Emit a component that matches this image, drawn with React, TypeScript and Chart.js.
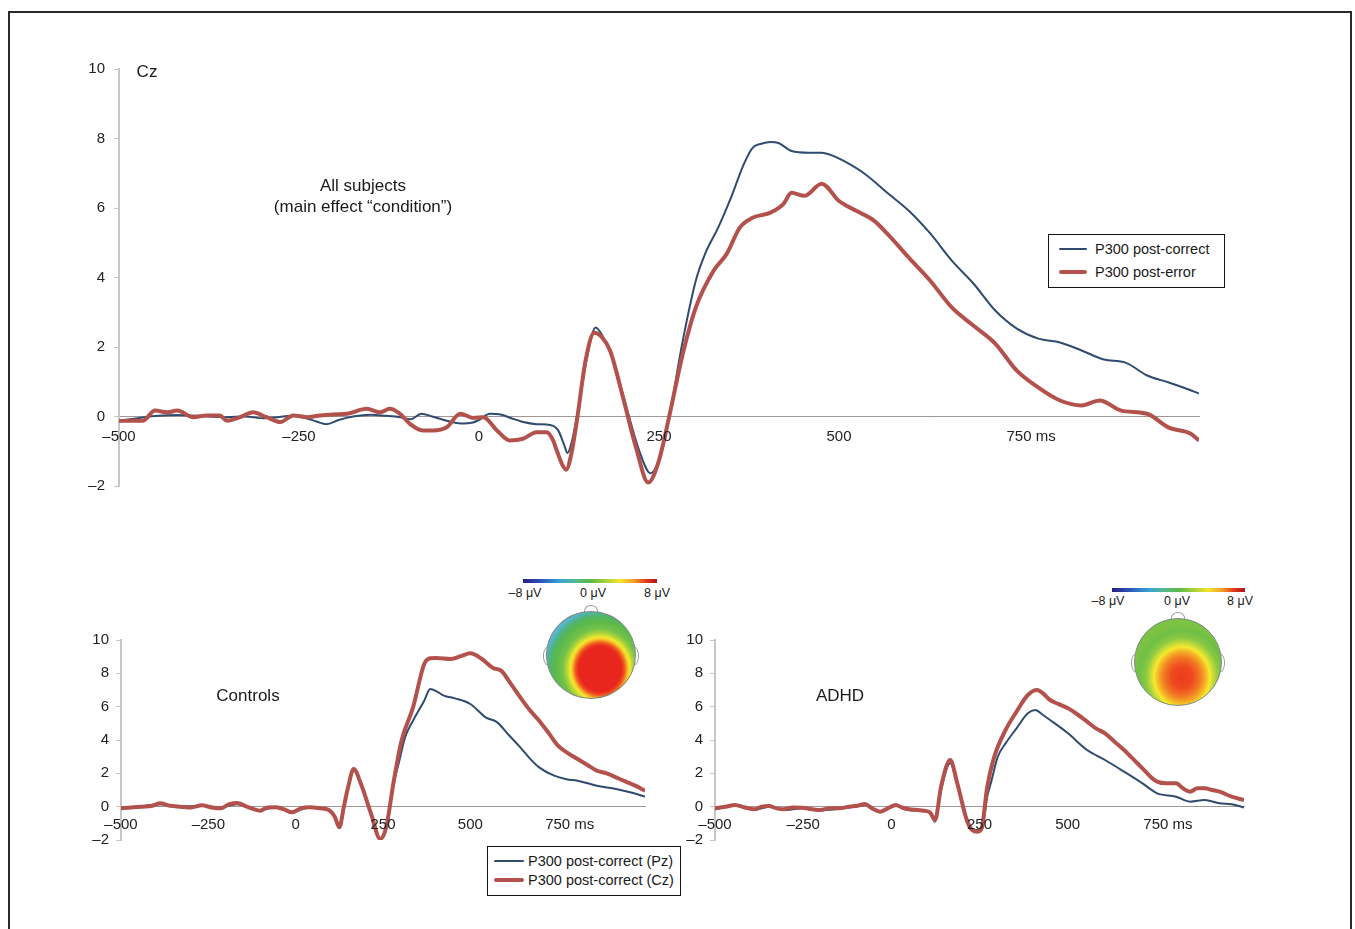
import React, { useEffect, useRef } from 'react';
import { Chart, registerables } from 'chart.js';

Chart.register(...registerables);

const FONT = '"Liberation Sans", Arial, Helvetica, sans-serif';
const BLUE = '#2f4b6e';
const RED = '#b3524c';

// x tick labels (ms) and y range (µV)
const xTickValues = [-500, -250, 0, 250, 500, 750];
const xMin = -500;
const xMax = 1000;
const yMin = -2;
const yMax = 10;
const yStep = 2;

// ---- Top panel: All subjects (Cz) ----
const topCorrectT = [-500, -485, -465, -445, -420, -400, -375, -350, -325, -300, -280, -260, -240, -225, -212, -195, -175, -150, -130, -110, -95, -80, -65, -45, -25, -10, 0, 15, 30, 45, 60, 80, 100, 110, 118, 123, 128, 136, 151, 162, 175, 188, 206, 224, 238, 253, 265, 283, 301, 314, 332, 350, 368, 380, 392, 405, 416, 434, 458, 476, 492, 506, 536, 567, 597, 627, 657, 687, 717, 747, 777, 807, 837, 868, 898, 928, 958, 980, 1000];
const topCorrectV = [-0.12, -0.08, -0.02, 0.02, 0.04, 0.03, 0.0, -0.02, 0.0, -0.05, -0.02, 0.02, -0.05, -0.15, -0.22, -0.1, 0.0, 0.05, 0.02, -0.02, -0.08, 0.08, 0.0, -0.12, -0.2, -0.18, -0.1, 0.08, 0.06, -0.05, -0.15, -0.22, -0.25, -0.4, -0.8, -1.05, -0.8, 0.0, 1.8, 2.56, 2.18, 1.52, 0.17, -1.07, -1.63, -1.07, 0.08, 2.18, 3.9, 4.68, 5.43, 6.3, 7.27, 7.73, 7.85, 7.9, 7.87, 7.64, 7.59, 7.59, 7.5, 7.36, 6.98, 6.44, 5.92, 5.26, 4.48, 3.82, 3.05, 2.53, 2.24, 2.13, 1.9, 1.64, 1.55, 1.18, 0.98, 0.82, 0.66];

const topErrorT = [-500, -485, -467, -450, -433, -419, -397, -378, -360, -350, -332, -314, -295, -276, -258, -239, -221, -203, -183, -156, -137, -124, -110, -96, -78, -64, -45, -26, -8, 6, 25, 43, 61, 80, 94, 103, 108, 116, 121, 128, 136, 148, 160, 170, 182, 200, 218, 235, 250, 265, 283, 301, 326, 344, 362, 380, 404, 423, 434, 452, 476, 500, 524, 549, 567, 597, 627, 657, 687, 717, 747, 777, 807, 837, 862, 892, 928, 958, 988, 1000];
const topErrorV = [-0.13, -0.12, -0.12, 0.17, 0.12, 0.17, -0.02, 0.03, 0.03, -0.12, -0.02, 0.12, -0.02, -0.16, 0.03, -0.02, 0.03, 0.06, 0.08, 0.22, 0.12, 0.22, 0.08, -0.21, -0.4, -0.4, -0.31, 0.08, -0.04, -0.02, -0.4, -0.69, -0.64, -0.45, -0.45, -0.69, -0.98, -1.4, -1.53, -1.1, -0.11, 1.61, 2.41, 2.3, 1.9, 0.55, -0.89, -1.9, -1.26, 0.08, 1.8, 3.13, 4.2, 4.68, 5.43, 5.72, 5.86, 6.12, 6.44, 6.35, 6.7, 6.2, 5.92, 5.63, 5.26, 4.57, 3.9, 3.13, 2.61, 2.1, 1.32, 0.83, 0.46, 0.32, 0.46, 0.17, 0.08, -0.32, -0.49, -0.69];

// ---- Bottom-left: Controls ----
const ctrlPzT = [-500, -450, -388, -330, -268, -220, -168, -102, -59, -10, 41, 95, 110, 125, 140, 150, 166, 187, 216, 242, 259, 281, 295, 313, 336, 368, 385, 405, 424, 456, 500, 544, 577, 610, 643, 670, 697, 740, 775, 807, 862, 917, 960, 1000];
const ctrlPzV = [-0.05, 0.0, 0.15, 0.0, 0.05, -0.05, 0.15, -0.2, -0.05, -0.3, -0.05, -0.2, -0.5, -1.2, 0.3, 1.1, 2.2, 1.3, -0.45, -1.9, -1.3, 1.4, 2.6, 4.16, 5.16, 6.36, 7.06, 6.9, 6.66, 6.5, 6.16, 5.36, 5.06, 4.3, 3.56, 2.9, 2.36, 1.86, 1.65, 1.56, 1.26, 1.06, 0.85, 0.6];

const ctrlCzT = [-500, -470, -440, -410, -388, -360, -330, -300, -268, -240, -215, -190, -168, -140, -120, -102, -80, -59, -35, -10, 15, 41, 70, 95, 112, 125, 138, 150, 166, 187, 216, 242, 259, 281, 303, 336, 368, 385, 402, 445, 475, 500, 533, 565, 588, 615, 643, 670, 697, 725, 751, 780, 807, 835, 862, 890, 917, 945, 972, 1000];
const ctrlCzV = [-0.1, -0.05, 0.0, 0.05, 0.2, 0.05, 0.0, -0.05, 0.08, -0.05, -0.1, 0.15, 0.22, 0.0, -0.15, -0.24, -0.05, -0.04, -0.15, -0.34, -0.1, -0.04, -0.1, -0.2, -0.6, -1.24, 0.0, 1.16, 2.26, 1.36, -0.44, -1.94, -1.24, 1.56, 3.96, 5.96, 8.56, 8.9, 8.92, 8.86, 9.05, 9.2, 8.86, 8.32, 8.16, 7.4, 6.56, 5.8, 5.16, 4.4, 3.66, 3.2, 2.86, 2.5, 2.16, 2.0, 1.76, 1.5, 1.26, 0.96];

// ---- Bottom-right: ADHD ----
const adhdPzT = [-500, -443, -389, -347, -305, -253, -201, -148, -96, -75, -32, 13, 50, 93, 110, 124, 141, 167, 187, 214, 229, 256, 272, 282, 302, 324, 355, 387, 408, 430, 450, 501, 555, 606, 660, 712, 754, 807, 847, 889, 931, 965, 1000];
const adhdPzV = [-0.15, 0.05, -0.2, 0.0, -0.2, -0.1, -0.22, -0.12, 0.02, 0.1, -0.32, 0.05, -0.2, -0.28, -0.4, -0.9, 1.0, 2.6, 1.3, -0.9, -1.4, -1.4, 0.6, 1.4, 3.0, 3.8, 4.7, 5.6, 5.8, 5.5, 5.2, 4.4, 3.4, 2.8, 2.1, 1.4, 0.8, 0.6, 0.3, 0.4, 0.2, 0.15, -0.05];

const adhdCzT = [-500, -470, -443, -415, -389, -368, -347, -325, -305, -280, -253, -225, -201, -175, -148, -120, -96, -75, -55, -32, -10, 13, 30, 50, 75, 93, 110, 124, 141, 167, 187, 214, 229, 245, 256, 272, 292, 324, 355, 387, 413, 430, 450, 475, 501, 530, 555, 580, 606, 633, 660, 686, 712, 735, 754, 780, 807, 827, 847, 868, 889, 910, 931, 965, 1000];
const adhdCzV = [-0.1, 0.0, 0.1, -0.05, -0.16, 0.0, 0.04, -0.1, -0.16, -0.05, -0.06, -0.15, -0.2, -0.1, -0.1, 0.0, 0.06, 0.16, -0.1, -0.3, -0.1, 0.1, -0.05, -0.16, -0.2, -0.24, -0.35, -0.8, 1.2, 2.8, 1.4, -0.8, -1.4, -1.5, -1.3, 1.2, 3.0, 4.6, 5.7, 6.7, 7.0, 6.8, 6.4, 6.15, 5.9, 5.5, 5.1, 4.7, 4.4, 3.9, 3.4, 2.85, 2.3, 1.8, 1.5, 1.4, 1.4, 1.1, 0.9, 1.1, 1.1, 1.0, 0.9, 0.6, 0.4];

const fmt = (v: number) => (v < 0 ? '\u2013' + Math.abs(v) : String(v));

type Series = { t: number[]; v: number[]; color: string; width: number; order: number };

type ChartProps = {
  left: number;
  top: number;
  width: number;
  height: number;
  padding: { left: number; right: number; top: number; bottom: number };
  yPad: number;
  xOff: number;
  series: Series[];
};

function ErpChart({ left, top, width, height, padding, yPad, xOff, series }: ChartProps) {
  const ref = useRef<HTMLCanvasElement>(null);
  useEffect(() => {
    const canvas = ref.current;
    if (!canvas) return;
    const xLabelPlugin = {
      id: 'xlabels',
      afterDraw(chart: any) {
        const xs = chart.scales.x;
        const ys = chart.scales.y;
        const c = chart.ctx as CanvasRenderingContext2D;
        const y0 = ys.getPixelForValue(0);
        c.save();
        c.font = `15px ${FONT}`;
        c.fillStyle = '#222';
        c.textBaseline = 'middle';
        xTickValues.forEach((v) => {
          const x = xs.getPixelForValue(v);
          const s = fmt(v);
          c.textAlign = 'center';
          c.fillText(s, x, y0 + xOff);
          if (v === 750) {
            c.textAlign = 'left';
            c.fillText(' ms', x + c.measureText(s).width / 2, y0 + xOff);
          }
        });
        c.restore();
      },
    };
    const chart = new Chart(canvas, {
      type: 'line',
      data: {
        datasets: series.map((s) => ({
          data: s.t.map((t, i) => ({ x: t, y: s.v[i] })),
          borderColor: s.color,
          borderWidth: s.width,
          pointRadius: 0,
          cubicInterpolationMode: 'monotone' as const,
          fill: false,
          order: s.order,
        })),
      },
      options: {
        animation: false,
        responsive: false,
        maintainAspectRatio: false,
        events: [],
        layout: { padding },
        plugins: { legend: { display: false }, tooltip: { enabled: false } },
        scales: {
          x: {
            type: 'linear',
            min: xMin,
            max: xMax,
            position: { y: 0 } as any,
            ticks: { display: false, stepSize: 250 },
            grid: { display: false },
            border: { display: true, color: '#9f9797', width: 1 },
          },
          y: {
            type: 'linear',
            min: yMin,
            max: yMax,
            position: 'left',
            afterFit: (a: any) => {
              a.width = 40;
            },
            ticks: {
              stepSize: yStep,
              padding: yPad,
              color: '#222',
              font: { family: FONT, size: 15 },
              callback: (v: any) => fmt(Number(v)),
            },
            grid: { drawOnChartArea: false, drawTicks: true, tickLength: 5, color: '#c9c4c4', lineWidth: 1 },
            border: { display: true, color: '#cbc6c6', width: 2 },
          },
        },
      },
      plugins: [xLabelPlugin],
    });
    return () => chart.destroy();
  }, []);
  return (
    <canvas
      ref={ref}
      width={width}
      height={height}
      style={{ position: 'absolute', left, top, width, height }}
    />
  );
}

function Txt({ x, y, size, children }: { x: number; y: number; size: number; children: React.ReactNode }) {
  return (
    <div
      style={{
        position: 'absolute',
        left: x,
        top: y,
        transform: 'translate(-50%, -50%)',
        fontFamily: FONT,
        fontSize: size,
        color: '#1a1a1a',
        whiteSpace: 'nowrap',
        lineHeight: 1.25,
        textAlign: 'center',
      }}
    >
      {children}
    </div>
  );
}

type LegendRow = { label: string; color: string; w: number; y: number };

function Legend({
  left,
  top,
  width,
  height,
  rows,
  size,
  lineLeft,
  lineLen,
  textLeft,
}: {
  left: number;
  top: number;
  width: number;
  height: number;
  rows: LegendRow[];
  size: number;
  lineLeft: number;
  lineLen: number;
  textLeft: number;
}) {
  return (
    <div
      style={{
        position: 'absolute',
        left,
        top,
        width,
        height,
        border: '1px solid #111',
        boxSizing: 'border-box',
        background: '#fff',
      }}
    >
      {rows.map((r, i) => (
        <React.Fragment key={i}>
          <div
            style={{
              position: 'absolute',
              left: lineLeft,
              top: r.y - r.w / 2,
              width: lineLen,
              height: r.w,
              background: r.color,
              borderRadius: r.w / 2,
            }}
          />
          <div
            style={{
              position: 'absolute',
              left: textLeft,
              top: r.y,
              transform: 'translateY(-50%)',
              fontFamily: FONT,
              fontSize: size,
              color: '#1a1a1a',
              whiteSpace: 'nowrap',
            }}
          >
            {r.label}
          </div>
        </React.Fragment>
      ))}
    </div>
  );
}

const colorbarGradient =
  'linear-gradient(to right, #23207e 0%, #2a4fb5 12%, #3aa5d6 28%, #56b98a 40%, #5bb847 50%, #a9d23a 62%, #f5e42c 72%, #f4a425 82%, #e2371f 92%, #a8161c 100%)';

function Topo({
  barLeft,
  barTop,
  barWidth,
  labelY,
  labelXs,
  cx,
  cy,
  rx,
  ry,
  fill,
}: {
  barLeft: number;
  barTop: number;
  barWidth: number;
  labelY: number;
  labelXs: number[];
  cx: number;
  cy: number;
  rx: number;
  ry: number;
  fill: string;
}) {
  const labels = ['\u20138 \u03bcV', '0 \u03bcV', '8 \u03bcV'];
  return (
    <>
      <div
        style={{ position: 'absolute', left: barLeft, top: barTop, width: barWidth, height: 4, background: colorbarGradient }}
      />
      {labels.map((l, i) => (
        <div
          key={i}
          style={{
            position: 'absolute',
            left: labelXs[i],
            top: labelY,
            transform: 'translate(-50%, -50%)',
            fontFamily: FONT,
            fontSize: 12.5,
            color: '#1a1a1a',
            whiteSpace: 'nowrap',
          }}
        >
          {l}
        </div>
      ))}
      {/* nose */}
      <div
        style={{
          position: 'absolute',
          left: cx - 7,
          top: cy - ry - 6,
          width: 14,
          height: 12,
          border: '1px solid #9a9a9a',
          borderRadius: '50% 50% 0 0',
          boxSizing: 'border-box',
        }}
      />
      {/* ears */}
      <div
        style={{ position: 'absolute', left: cx - rx - 3, top: cy - 8, width: 8, height: 18, border: '1px solid #9a9a9a', borderRadius: '50%', boxSizing: 'border-box' }}
      />
      <div
        style={{ position: 'absolute', left: cx + rx - 5, top: cy - 8, width: 8, height: 18, border: '1px solid #9a9a9a', borderRadius: '50%', boxSizing: 'border-box' }}
      />
      <div
        style={{
          position: 'absolute',
          left: cx - rx,
          top: cy - ry,
          width: rx * 2,
          height: ry * 2,
          borderRadius: '50%',
          background: fill,
          border: '1px solid #7a8a80',
          boxSizing: 'border-box',
        }}
      />
    </>
  );
}

export default function App() {
  return (
    <div style={{ position: 'absolute', left: 0, top: 0, width: 1355, height: 929, overflow: 'hidden', background: '#fff' }}>
      <div
        style={{
          position: 'absolute',
          left: 8,
          top: 11,
          width: 1344,
          height: 960,
          border: '2px solid #2a2a2a',
          boxSizing: 'border-box',
        }}
      />

      <ErpChart
        left={40}
        top={50}
        width={1200}
        height={456}
        padding={{ left: 39, right: 41, top: 19, bottom: 20 }}
        yPad={9}
        xOff={20}
        series={[
          { t: topErrorT, v: topErrorV, color: RED, width: 4, order: 0 },
          { t: topCorrectT, v: topCorrectV, color: BLUE, width: 2, order: 1 },
        ]}
      />
      <Txt x={147} y={72} size={17}>Cz</Txt>
      <Txt x={363} y={196} size={17}>
        All subjects
        <br />
        (main effect “condition”)
      </Txt>
      <Legend
        left={1048}
        top={234}
        width={177}
        height={54}
        size={14.5}
        lineLeft={10}
        lineLen={28}
        textLeft={46}
        rows={[
          { label: 'P300 post-correct', color: BLUE, w: 2, y: 14 },
          { label: 'P300 post-error', color: RED, w: 4, y: 37 },
        ]}
      />

      <ErpChart
        left={60}
        top={620}
        width={600}
        height={240}
        padding={{ left: 21, right: 15, top: 20, bottom: 20 }}
        yPad={7}
        xOff={18}
        series={[
          { t: ctrlCzT, v: ctrlCzV, color: RED, width: 4, order: 0 },
          { t: ctrlPzT, v: ctrlPzV, color: BLUE, width: 2, order: 1 },
        ]}
      />
      <Txt x={248} y={696} size={17}>Controls</Txt>

      <ErpChart
        left={655}
        top={620}
        width={600}
        height={240}
        padding={{ left: 20, right: 11, top: 20, bottom: 20 }}
        yPad={7}
        xOff={18}
        series={[
          { t: adhdCzT, v: adhdCzV, color: RED, width: 4, order: 0 },
          { t: adhdPzT, v: adhdPzV, color: BLUE, width: 2, order: 1 },
        ]}
      />
      <Txt x={840} y={696} size={17}>ADHD</Txt>

      <Legend
        left={487}
        top={846}
        width={194}
        height={50}
        size={14.5}
        lineLeft={6}
        lineLen={30}
        textLeft={40}
        rows={[
          { label: 'P300 post-correct (Pz)', color: BLUE, w: 2, y: 14 },
          { label: 'P300 post-correct (Cz)', color: RED, w: 4, y: 33 },
        ]}
      />

      <Topo
        barLeft={523}
        barTop={579}
        barWidth={134}
        labelY={593}
        labelXs={[525, 593, 657]}
        cx={591}
        cy={655}
        rx={45}
        ry={44}
        fill="radial-gradient(ellipse 56px 60px at 53px 57px, #e8261d 0%, #e8261d 38%, #ef5a1f 44%, #f5b528 49%, #f3ea2e 53%, #b5d639 59%, #74c24a 67%, #5bb94a 80%, #50b56a 89%, #4fb3a4 95%, #5cb5d6 100%)"
      />
      <Topo
        barLeft={1112}
        barTop={588}
        barWidth={133}
        labelY={601}
        labelXs={[1108, 1177, 1240]}
        cx={1178}
        cy={662}
        rx={44}
        ry={44}
        fill="radial-gradient(ellipse 48px 52px at 47px 58px, #ec3a1e 0%, #ee4a1f 22%, #f17a22 38%, #f6b427 50%, #f5e92d 58%, #c2da3a 66%, #88c843 76%, #6fbf46 90%, #7cc243 100%)"
      />
    </div>
  );
}
